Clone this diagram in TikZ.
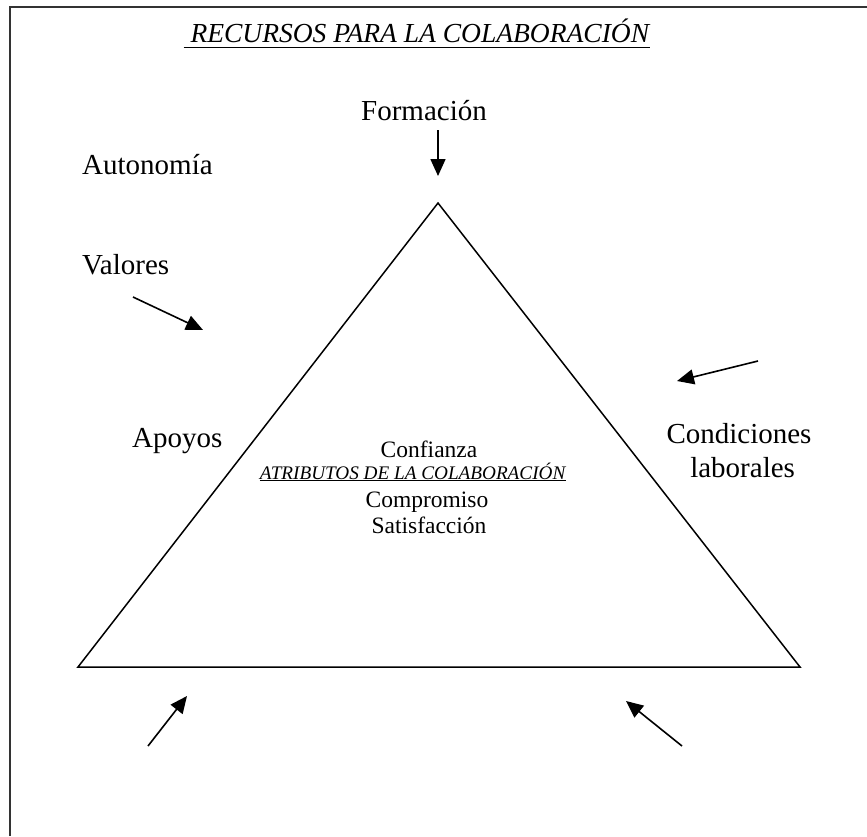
\documentclass[tikz,border=0pt]{standalone}
\usepackage{fontspec}
\setmainfont{Liberation Serif}
\usetikzlibrary{arrows.meta}
\newcommand{\ulbig}[1]{\underline{\smash{#1}\vphantom{\rule[-3.5pt]{0pt}{1pt}}}}
\begin{document}
\begin{tikzpicture}[x=1pt,y=-1pt,
  lbl/.style={inner sep=0pt,anchor=base west,font=\fontsize{29}{34}\selectfont},
  ctr/.style={inner sep=0pt,anchor=base,font=\fontsize{23.5}{28}\selectfont},
  arr/.style={line width=1.6pt,-{Triangle[length=17pt,width=15pt]}},
  frame/.style={line width=2.2pt,draw=black!80}]
\useasboundingbox (0,0) rectangle (867,836);
% frame (only top and left visible)
\draw[frame] (10,836) -- (10,7) -- (867,7);
% title
\node[inner sep=0pt,anchor=base] (title) at (417,42) {\fontsize{27.5}{32}\selectfont\ulbig{\textit{\ RECURSOS PARA LA COLABORACIÓN}}};
% triangle
\coordinate (apex) at (438,203);
\coordinate (bl) at (78,667);
\coordinate (br) at (800,667);
\draw[line width=1.5pt] (apex) -- (bl) -- (br) -- cycle;
% labels
\node[lbl,anchor=base] (form) at (424,120) {Formación};
\node[lbl] (auto) at (82,174) {Autonomía};
\node[lbl] (val) at (82,274) {Valores};
\node[lbl] (apo) at (132,447) {Apoyos};
\node[lbl,anchor=base,align=center] (cond) at (739,477) {Condiciones\\[0pt]\ laborales};
% center text
\node[ctr] (conf) at (429,457) {Confianza};
\node[inner sep=0pt,anchor=base] (atr) at (413,479) {\fontsize{19.2}{22}\selectfont\underline{\textit{ATRIBUTOS DE LA COLABORACIÓN}}};
\node[ctr] (comp) at (427,507) {Compromiso};
\node[ctr] (sat) at (429,533) {Satisfacción};
% arrows
\coordinate (a1s) at (438,130); \coordinate (a1e) at (438,176);
\coordinate (a2s) at (133,297); \coordinate (a2e) at (203,330);
\coordinate (a3s) at (758,361); \coordinate (a3e) at (677,381);
\coordinate (a4s) at (148,746); \coordinate (a4e) at (187,696);
\coordinate (a5s) at (682,746); \coordinate (a5e) at (626,701);
\draw[arr] (a1s) -- (a1e);
\draw[arr] (a2s) -- (a2e);
\draw[arr] (a3s) -- (a3e);
\draw[arr] (a4s) -- (a4e);
\draw[arr] (a5s) -- (a5e);
\end{tikzpicture}
\end{document}
